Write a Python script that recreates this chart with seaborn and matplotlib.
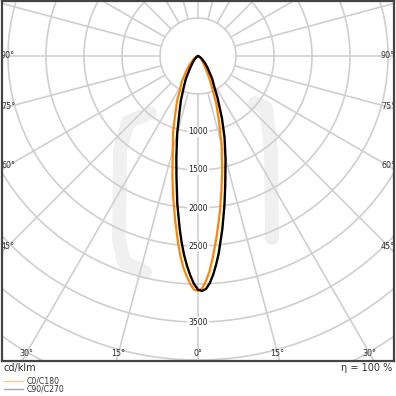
import numpy as np
import pandas as pd
import matplotlib
matplotlib.use("Agg")
import matplotlib.pyplot as plt
import seaborn as sns

# ---- data (cd/klm) ----
gamma = [0, 1, 2, 3, 4, 5, 6, 8, 10, 12, 15, 18, 21, 25, 28, 32, 39, 45, 55, 65, 75, 90]
c180_left = [3090, 3075, 2995, 2895, 2785, 2645, 2490, 2170, 1880, 1620, 1280, 1060, 845, 650, 506, 410, 237, 150, 70, 30, 10, 0]
c0_right = [3088, 3060, 2965, 2845, 2690, 2525, 2370, 2070, 1780, 1530, 1195, 890, 670, 415, 290, 180, 100, 60, 25, 10, 3, 0]
c270_left = [3075, 3000, 2890, 2765, 2625, 2465, 2295, 1960, 1630, 1370, 1060, 795, 630, 435, 340, 215, 110, 65, 25, 10, 3, 0]
c90_right = [3080, 3092, 3065, 2990, 2880, 2750, 2610, 2300, 2000, 1725, 1400, 1130, 880, 610, 455, 350, 200, 130, 55, 20, 5, 0]

ring_values = [500, 1000, 1500, 2000, 2500, 3000, 3500, 4000, 4500, 5000]
ring_labels = [1000, 1500, 2000, 2500, 3500]
spoke_angles = list(range(0, 360, 15))
side_label_angles = [45, 60, 75, 90]
bottom_label_angles = [0, 15, 30]

series_names = ["C0/C180", "C90/C270"]
series_colors = ["#ff8400", "#000000"]
legend_colors = ["#ffc68a", "#a8a8a8"]

# ---- figure ----
sns.set_theme(style="white")
plt.rcParams["font.family"] = ["DejaVu Sans"]

W = 396
fig = plt.figure(figsize=(3.96, 3.96), dpi=100)
ax = fig.add_axes([2 / W, 35 / W, 392 / W, 360 / W])
s = 500 / 38.0  # cd/klm per pixel
ax.set_xlim(-196 * s, 196 * s)
ax.set_ylim(-305 * s, 55 * s)
ax.set_aspect("equal")
ax.set_xticks([])
ax.set_yticks([])
for sp in ax.spines.values():
    sp.set_color("#444444")
    sp.set_linewidth(1.6)
    sp.set_visible(True)

# faint watermark (decorative, behind everything)
def px(xp, yp):
    return (np.array(xp) - 198) * s, -(np.array(yp) - 56) * s
wx, wy = px([150, 128, 120, 119, 124, 145], [113, 122, 150, 240, 262, 272])
ax.plot(wx, wy, color="#f0f0f0", lw=10, solid_capstyle="round", solid_joinstyle="round", zorder=0.5)
wx, wy = px([255, 266, 271, 272], [103, 108, 150, 238])
ax.plot(wx, wy, color="#f0f0f0", lw=10, solid_capstyle="round", solid_joinstyle="round", zorder=0.5)

grid_c = "#cfcfcf"
t = np.linspace(0, 2 * np.pi, 400)
for r in ring_values:
    ax.plot(r * np.cos(t), r * np.sin(t), color=grid_c, lw=1.2, zorder=1)
for a in spoke_angles:
    g = np.deg2rad(a)
    rr = np.array([500, 8000])
    ax.plot(rr * np.sin(g), -rr * np.cos(g), color=grid_c, lw=1.2, zorder=1)

# ---- curves ----
def build(left, right):
    g = np.deg2rad(np.concatenate([-np.array(gamma[::-1]), np.array(gamma[1:])]))
    I = np.concatenate([np.array(left[::-1]), np.array(right[1:])])
    return pd.DataFrame({"x": I * np.sin(g), "y": -I * np.cos(g)})

df0 = build(c180_left, c0_right)
df1 = build(c270_left, c90_right)
sns.lineplot(data=df0, x="x", y="y", sort=False, estimator=None, color=series_colors[0], lw=1.6, ax=ax, zorder=3)
sns.lineplot(data=df1, x="x", y="y", sort=False, estimator=None, color=series_colors[1], lw=1.7, ax=ax, zorder=4)
ax.set_xlabel("")
ax.set_ylabel("")

# ---- ring labels ----
for r in ring_labels:
    ax.text(0, -r, str(r), ha="center", va="center", fontsize=5.6, color="#222222",
            bbox=dict(facecolor="white", edgecolor="none", pad=0.6), zorder=2)

# ---- angle labels ----
lab_c = "#333333"
for a in side_label_angles:
    xx = 190 * s
    yy = -xx / np.tan(np.deg2rad(a)) if a != 90 else 0
    ax.text(-xx, yy, f"{a}°", ha="center", va="center", fontsize=5.8, color=lab_c, zorder=2)
    ax.text(xx, yy, f"{a}°", ha="center", va="center", fontsize=5.8, color=lab_c, zorder=2)
for a in bottom_label_angles:
    yy = 297 * s
    xx = yy * np.tan(np.deg2rad(a))
    ax.text(-xx, -yy, f"{a}°", ha="center", va="center", fontsize=5.8, color=lab_c, zorder=2)
    if a != 0:
        ax.text(xx, -yy, f"{a}°", ha="center", va="center", fontsize=5.8, color=lab_c, zorder=2)

# ---- texts below ----
fig.text(4 / W, 1 - 368 / W, "cd/klm", ha="left", va="center", fontsize=7, color="#333333")
fig.text(392 / W, 1 - 368 / W, "η = 100 %", ha="right", va="center", fontsize=7, color="#333333")
for i, (name, lc) in enumerate(zip(series_names, legend_colors)):
    yy = 1 - (381 + 7.5 * i) / W
    fig.add_artist(plt.Line2D([4 / W, 23 / W], [yy, yy], color=lc, lw=1.0))
    fig.text(27 / W, yy, name, ha="left", va="center", fontsize=5.6, color="#333333")

fig.savefig("out.png", dpi=100)
